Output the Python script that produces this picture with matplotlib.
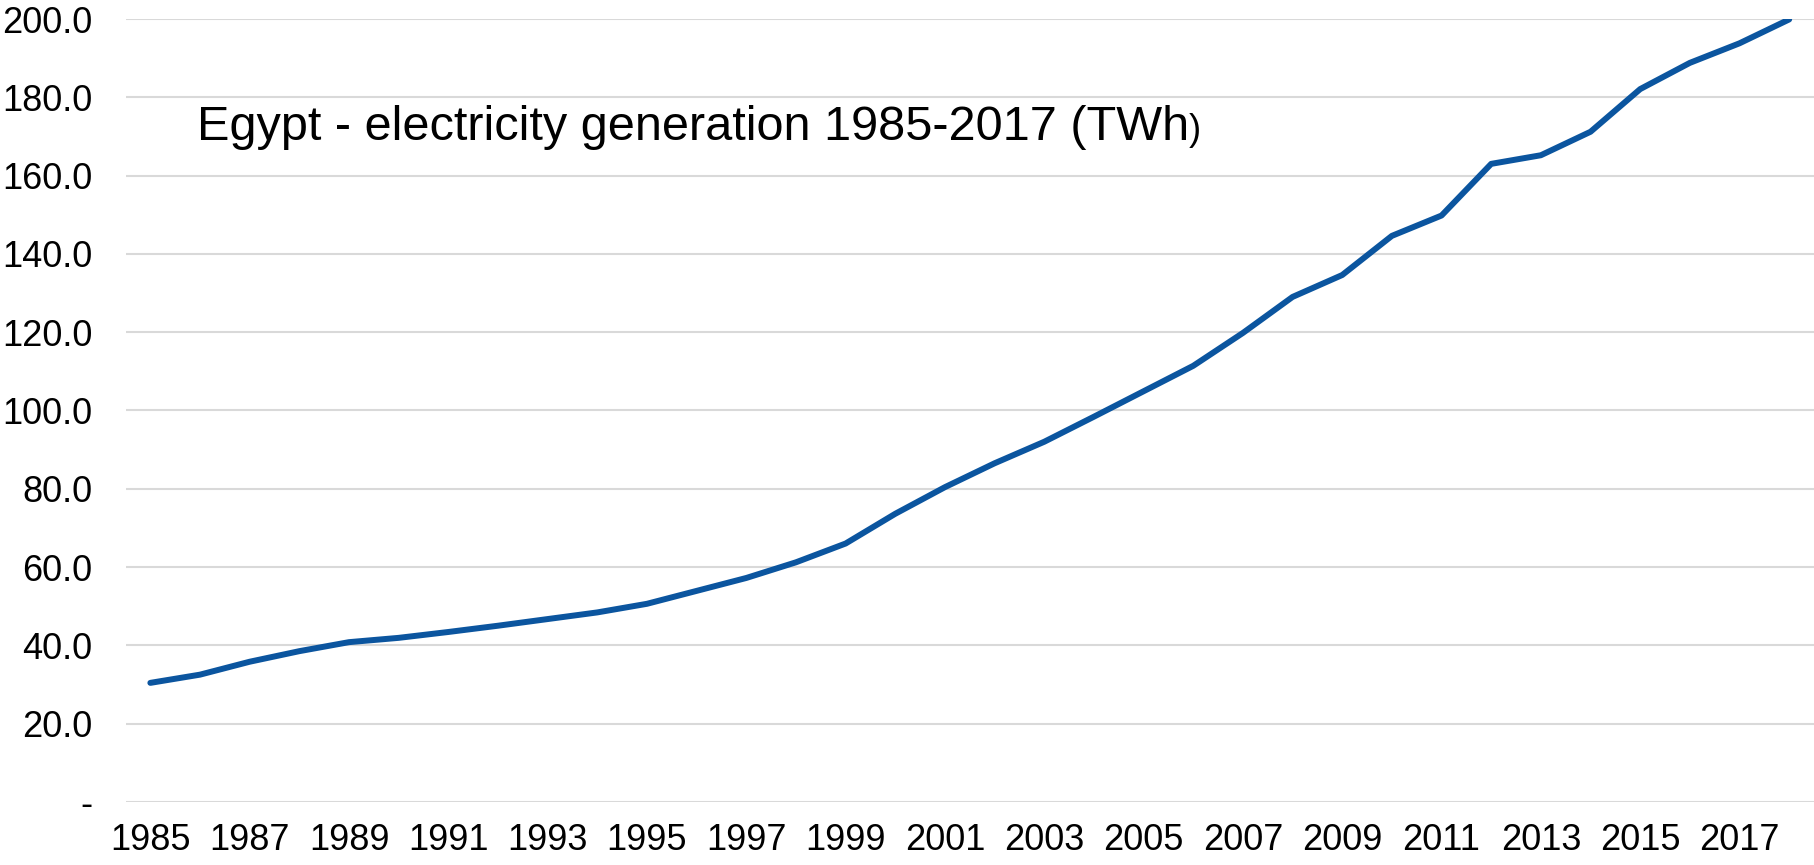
import matplotlib.pyplot as plt
from matplotlib.ticker import FixedLocator

plt.rcParams['font.family'] = ['Liberation Sans', 'DejaVu Sans']

years = list(range(1985, 2019))
twh = [30.4, 32.5, 35.8, 38.5, 40.8, 41.9, 43.4, 45.0, 46.7, 48.4,
       50.6, 53.9, 57.2, 61.2, 66.0, 73.6, 80.4, 86.5, 92.0, 98.4,
       104.9, 111.4, 119.8, 129.0, 134.6, 144.6, 149.8, 163.0, 165.2, 171.2,
       182.1, 188.8, 193.8, 199.9]
y_ticks = [0, 20, 40, 60, 80, 100, 120, 140, 160, 180, 200]
x_labels = [str(y) for y in range(1985, 2018, 2)]

fig = plt.figure(figsize=(18.14, 8.65), dpi=100)
ax = fig.add_axes([0.0692, 0.073, 0.9308, 0.905])

ax.plot(years, twh, color='#0B559F', linewidth=4.3, solid_capstyle='round')

ax.set_xlim(1984.5, 2018.5)
ax.set_ylim(0, 200)
ax.yaxis.set_major_locator(FixedLocator(y_ticks))
ax.set_yticklabels(['-'] + [f'{v:.1f}' for v in y_ticks[1:]])
ax.set_xticks(list(range(1985, 2018, 2)))
ax.set_xticklabels(x_labels)

ax.grid(axis='y', color='#D9D9D9', linewidth=1.5)
ax.set_axisbelow(True)
for s in ax.spines.values():
    s.set_visible(False)
ax.tick_params(axis='both', length=0, labelsize=26, colors='black')
ax.tick_params(axis='y', pad=24)
ax.tick_params(axis='x', pad=15)

ax.text(0.0423, 0.846, 'Egypt - electricity generation 1985-2017 (TWh',
        transform=ax.transAxes, fontsize=35, va='baseline', ha='left')
t = ax.texts[0]
fig.canvas.draw()
bb = t.get_window_extent()
x_end = ax.transAxes.inverted().transform((bb.x1, bb.y0))[0]
ax.text(x_end, 0.846, ')', transform=ax.transAxes, fontsize=26,
        va='baseline', ha='left')

fig.savefig('out.png', dpi=100)
